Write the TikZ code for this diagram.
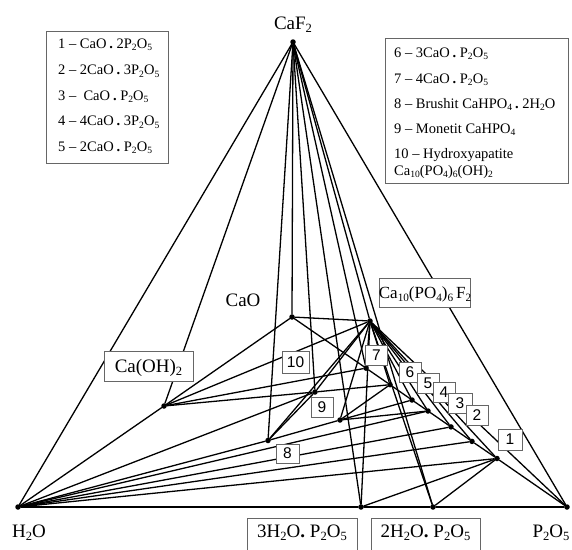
\documentclass[tikz,border=0pt]{standalone}
\usepackage{fontspec}
\setmainfont{Liberation Serif}
\newfontfamily\numfont{Liberation Sans}
\makeatletter
\newcommand\sbs[1]{\raisebox{-0.2em}{\fontsize{\fpeval{0.66*\f@size}}{1}\selectfont #1}}
\makeatother
\newcommand\bdot{\hspace{0.2em}{\bfseries .}\hspace{0.25em}}
\begin{document}
\begin{tikzpicture}[x=1pt,y=-1pt,
  tie/.style={line width=1.3pt, line cap=round, line join=round},
  pt/.style={circle, fill=black, inner sep=0pt, minimum size=5.5pt},
  numbox/.style={draw=black!60, fill=white, line width=0.9pt, inner sep=0pt,
     minimum width=22pt, minimum height=20pt, font=\numfont\fontsize{15.5}{15.5}\selectfont},
  lblbox/.style={draw=black!60, fill=white, line width=0.9pt, inner sep=0pt},
  big/.style={font=\fontsize{19}{21}\selectfont, inner sep=0pt},
  leg/.style={font=\fontsize{14.5}{16}\selectfont, inner sep=0pt, anchor=base west}
]
\useasboundingbox (0,0) rectangle (572,549);
\fill[white] (0,0) rectangle (572,549);
% points
\node[pt] (C) at (293,42) {};
\node[pt] (W) at (18,507) {};
\node[pt] (P) at (567,507) {};
\node[pt] (O) at (292,317) {};
\node[pt] (F) at (370,321) {};
\node[pt] (H) at (164,406) {};
\node[pt] (A) at (361,507) {};
\node[pt] (B) at (433,507) {};
\node[pt] (p1) at (497,458.5) {};
\node[pt] (p2) at (472,441.4) {};
\node[pt] (p3) at (451,426.9) {};
\node[pt] (p4) at (428,411) {};
\node[pt] (p5) at (412,400) {};
\node[pt] (p6) at (390,384.7) {};
\node[pt] (p7) at (366,368.1) {};
\node[pt] (p10) at (315,392) {};
\node[pt] (p9) at (340,420) {};
\node[pt] (p8) at (268,440.5) {};
% outer
\draw[tie] (C) -- (W);
\draw[tie] (C) -- (P);
\draw[tie] (W) -- (A);
\draw[tie] (A) -- (B);
\draw[tie] (B) -- (P);
% from CaF2
\foreach \t in {H,p8,O,p10,A,p7,F,B} \draw[tie] (C) -- (\t);
% base edges
\draw[tie] (W) -- (H);
\draw[tie] (H) -- (O);
\draw[tie] (O) -- (p7);
\draw[tie] (p7) -- (p6);
\draw[tie] (p6) -- (p5);
\draw[tie] (p5) -- (p4);
\draw[tie] (p4) -- (p3);
\draw[tie] (p3) -- (p2);
\draw[tie] (p2) -- (p1);
\draw[tie] (p1) -- (P);
% from H2O
\foreach \t in {p10,p8,p4,p3,p2,p1} \draw[tie] (W) -- (\t);
\draw[tie] (p8) -- (p9);
\draw[tie] (p9) -- (p5);
% from Ca(OH)2
\foreach \t in {p10,p7,F} \draw[tie] (H) -- (\t);
% from fluorapatite
\foreach \t in {O,p10,p8,p9,p7,p6,p5,p4,p3,p2,p1,P,B,A} \draw[tie] (F) -- (\t);
% other tie lines
\draw[tie] (A) -- (p1);
\draw[tie] (B) -- (p1);
\draw[tie] (p8) -- (p10);
\draw[tie] (p10) -- (p6);
\draw[tie] (p9) -- (p6);
\draw[tie] (p9) -- (p4);
% number boxes
\node[numbox, minimum width=27pt, minimum height=22pt] (n10) at (295.5,362) {10};
\node[numbox] (n7) at (376.5,355) {7};
\node[numbox] (n6) at (410,372.5) {6};
\node[numbox] (n5) at (428,383) {5};
\node[numbox] (n4) at (444,392) {4};
\node[numbox, minimum width=24pt] (n3) at (460,403) {3};
\node[numbox] (n2) at (477,415.5) {2};
\node[numbox, minimum width=24pt, minimum height=21pt] (n1) at (510,439.5) {1};
\node[numbox] (n9) at (322,407.5) {9};
\node[numbox, minimum width=23pt, minimum height=19pt] (n8) at (287.5,453.5) {8};
% labels
\node[big, anchor=base] (lCaF) at (293,29) {CaF\sbs{2}};
\node[big, anchor=base] (lCaO) at (243,306) {CaO};
\node[lblbox, minimum width=91pt, minimum height=29pt] (bFA) at (424.5,292.5) {};
\node[big, anchor=base, font=\fontsize{17}{19}\selectfont] (lFA) at (425,298) {Ca\sbs{10}(PO\sbs{4})\sbs{6}\,F\sbs{2}};
\node[lblbox, minimum width=89pt, minimum height=30pt] (bCH) at (148.5,366) {};
\node[big, anchor=base] (lCH) at (148.5,372) {Ca(OH)\sbs{2}};
\node[big, anchor=base] (lW) at (29,537) {H\sbs{2}O};
\node[big, anchor=base] (lP) at (551,537) {P\sbs{2}O\sbs{5}};
\node[lblbox, minimum width=110pt, minimum height=40pt] (bA) at (302,538) {};
\node[big, anchor=base] (lA) at (302,537) {3H\sbs{2}O{\bfseries .} P\sbs{2}O\sbs{5}};
\node[lblbox, minimum width=109pt, minimum height=40pt] (bB) at (425.5,538) {};
\node[big, anchor=base] (lB) at (425.5,537) {2H\sbs{2}O{\bfseries .} P\sbs{2}O\sbs{5}};
% left legend
\node[lblbox, minimum width=122pt, minimum height=132pt] (legL) at (107,97) {};
\node[leg] (l1) at (58,48) {1 -- CaO\bdot 2P\sbs{2}O\sbs{5}};
\node[leg] (l2) at (58,74.5) {2 -- 2CaO\bdot 3P\sbs{2}O\sbs{5}};
\node[leg] (l3) at (58,100) {3 --\ \ CaO\bdot P\sbs{2}O\sbs{5}};
\node[leg] (l4) at (58,125.5) {4 -- 4CaO\bdot 3P\sbs{2}O\sbs{5}};
\node[leg] (l5) at (58,151) {5 -- 2CaO\bdot P\sbs{2}O\sbs{5}};
% right legend
\node[lblbox, minimum width=183pt, minimum height=145pt] (legR) at (476.5,110.5) {};
\node[leg] (r6) at (394,57) {6 -- 3CaO\bdot P\sbs{2}O\sbs{5}};
\node[leg] (r7) at (394,83) {7 -- 4CaO\bdot P\sbs{2}O\sbs{5}};
\node[leg] (r8) at (394,108) {8 -- Brushit CaHPO\sbs{4}\bdot 2H\sbs{2}O};
\node[leg] (r9) at (394,133) {9 -- Monetit CaHPO\sbs{4}};
\node[leg] (r10) at (394,158.5) {10 -- Hydroxyapatite};
\node[leg] (r10b) at (394,175) {Ca\sbs{10}(PO\sbs{4})\sbs{6}(OH)\sbs{2}};
\end{tikzpicture}
\end{document}
